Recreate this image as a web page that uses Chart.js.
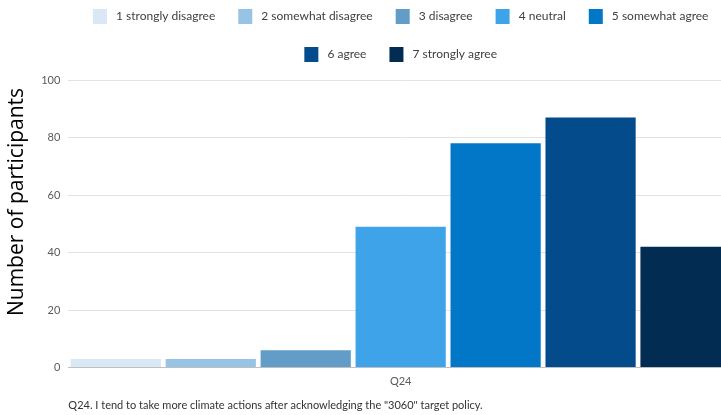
<!DOCTYPE html>
<html>
<head>
<meta charset="utf-8">
<script src="https://cdn.jsdelivr.net/npm/chart.js@4"></script>
<style>
  html, body { margin: 0; padding: 0; background: #fff; overflow: hidden; }
  #wrap { width: 735px; height: 415px; }
</style>
</head>
<body>
<div id="wrap"><canvas id="likert-chart"></canvas></div>
<script>
// categories and values
const questions = ["Q24"];
const answerLabels = ["1 strongly disagree", "2 somewhat disagree", "3 disagree", "4 neutral",
                      "5 somewhat agree", "6 agree", "7 strongly agree"];
const answerCounts = [3, 3, 6, 49, 78, 87, 42];
const answerColors = ["#d9e8f4", "#97c3e4", "#619dc7", "#3ea3e8", "#0277c8", "#034b8b", "#022c51"];
const yTicks = [0, 20, 40, 60, 80, 100];

const likertCanvas = document.getElementById("likert-chart");

let likertData = {
    labels: questions,
    datasets: answerLabels.map((label, i) => ({
        label: label,
        data: [answerCounts[i]],
        backgroundColor: answerColors[i],
        borderWidth: 0,
        barPercentage: 0.95,
        categoryPercentage: 1
    }))
};

// a bit more room under the legend
const legendGap = {
    id: "legendGap",
    beforeInit(chart) {
        const fit = chart.legend.fit;
        chart.legend.fit = function () {
            fit.bind(chart.legend)();
            this.height += 8;
        };
    }
};

let likertOptions = {
    responsive: true,
    maintainAspectRatio: false,
    animation: false,
    layout: {
        padding: { left: 0, right: 2, top: -14, bottom: 3 }
    },
    scales: {
        x: {
            grid: { display: false, drawTicks: false },
            border: { color: "#bfbfbf" },
            ticks: { color: "#595959", font: { family: "Lato", size: 11 }, padding: 7 },
            title: {
                display: true,
                text: 'Q24. I tend to take more climate actions after acknowledging the "3060" target policy.',
                align: "start",
                color: "#333",
                font: { family: "Lato", size: 11 },
                padding: { top: 4, bottom: 0 }
            }
        },
        y: {
            min: 0,
            max: 100,
            afterBuildTicks: axis => { axis.ticks = yTicks.map(v => ({ value: v })); },
            grid: { color: "#e3e3e3", drawTicks: false },
            border: { display: false },
            ticks: { color: "#595959", font: { family: "Lato", size: 11 }, padding: 8 },
            title: {
                display: true,
                // leading spaces lift the title a little above the middle, like the original
                text: "        Number of participants",
                color: "#000",
                font: { family: "Open Sans", size: 21 },
                padding: { top: 4, bottom: 4 }
            }
        }
    },
    plugins: {
        legend: {
            position: "top",
            fullSize: false,
            labels: {
                boxWidth: 14,
                boxHeight: 15,
                padding: 23,
                color: "#404040",
                font: { family: "Lato", size: 12 },
                generateLabels: chart => Chart.defaults.plugins.legend.labels.generateLabels(chart)
                    .map(item => ({ ...item, text: " " + item.text }))
            }
        },
        tooltip: { enabled: false }
    }
};

let likertChart = new Chart(likertCanvas, {
    type: "bar",
    data: likertData,
    options: likertOptions,
    plugins: [legendGap]
});
</script>
</body>
</html>
